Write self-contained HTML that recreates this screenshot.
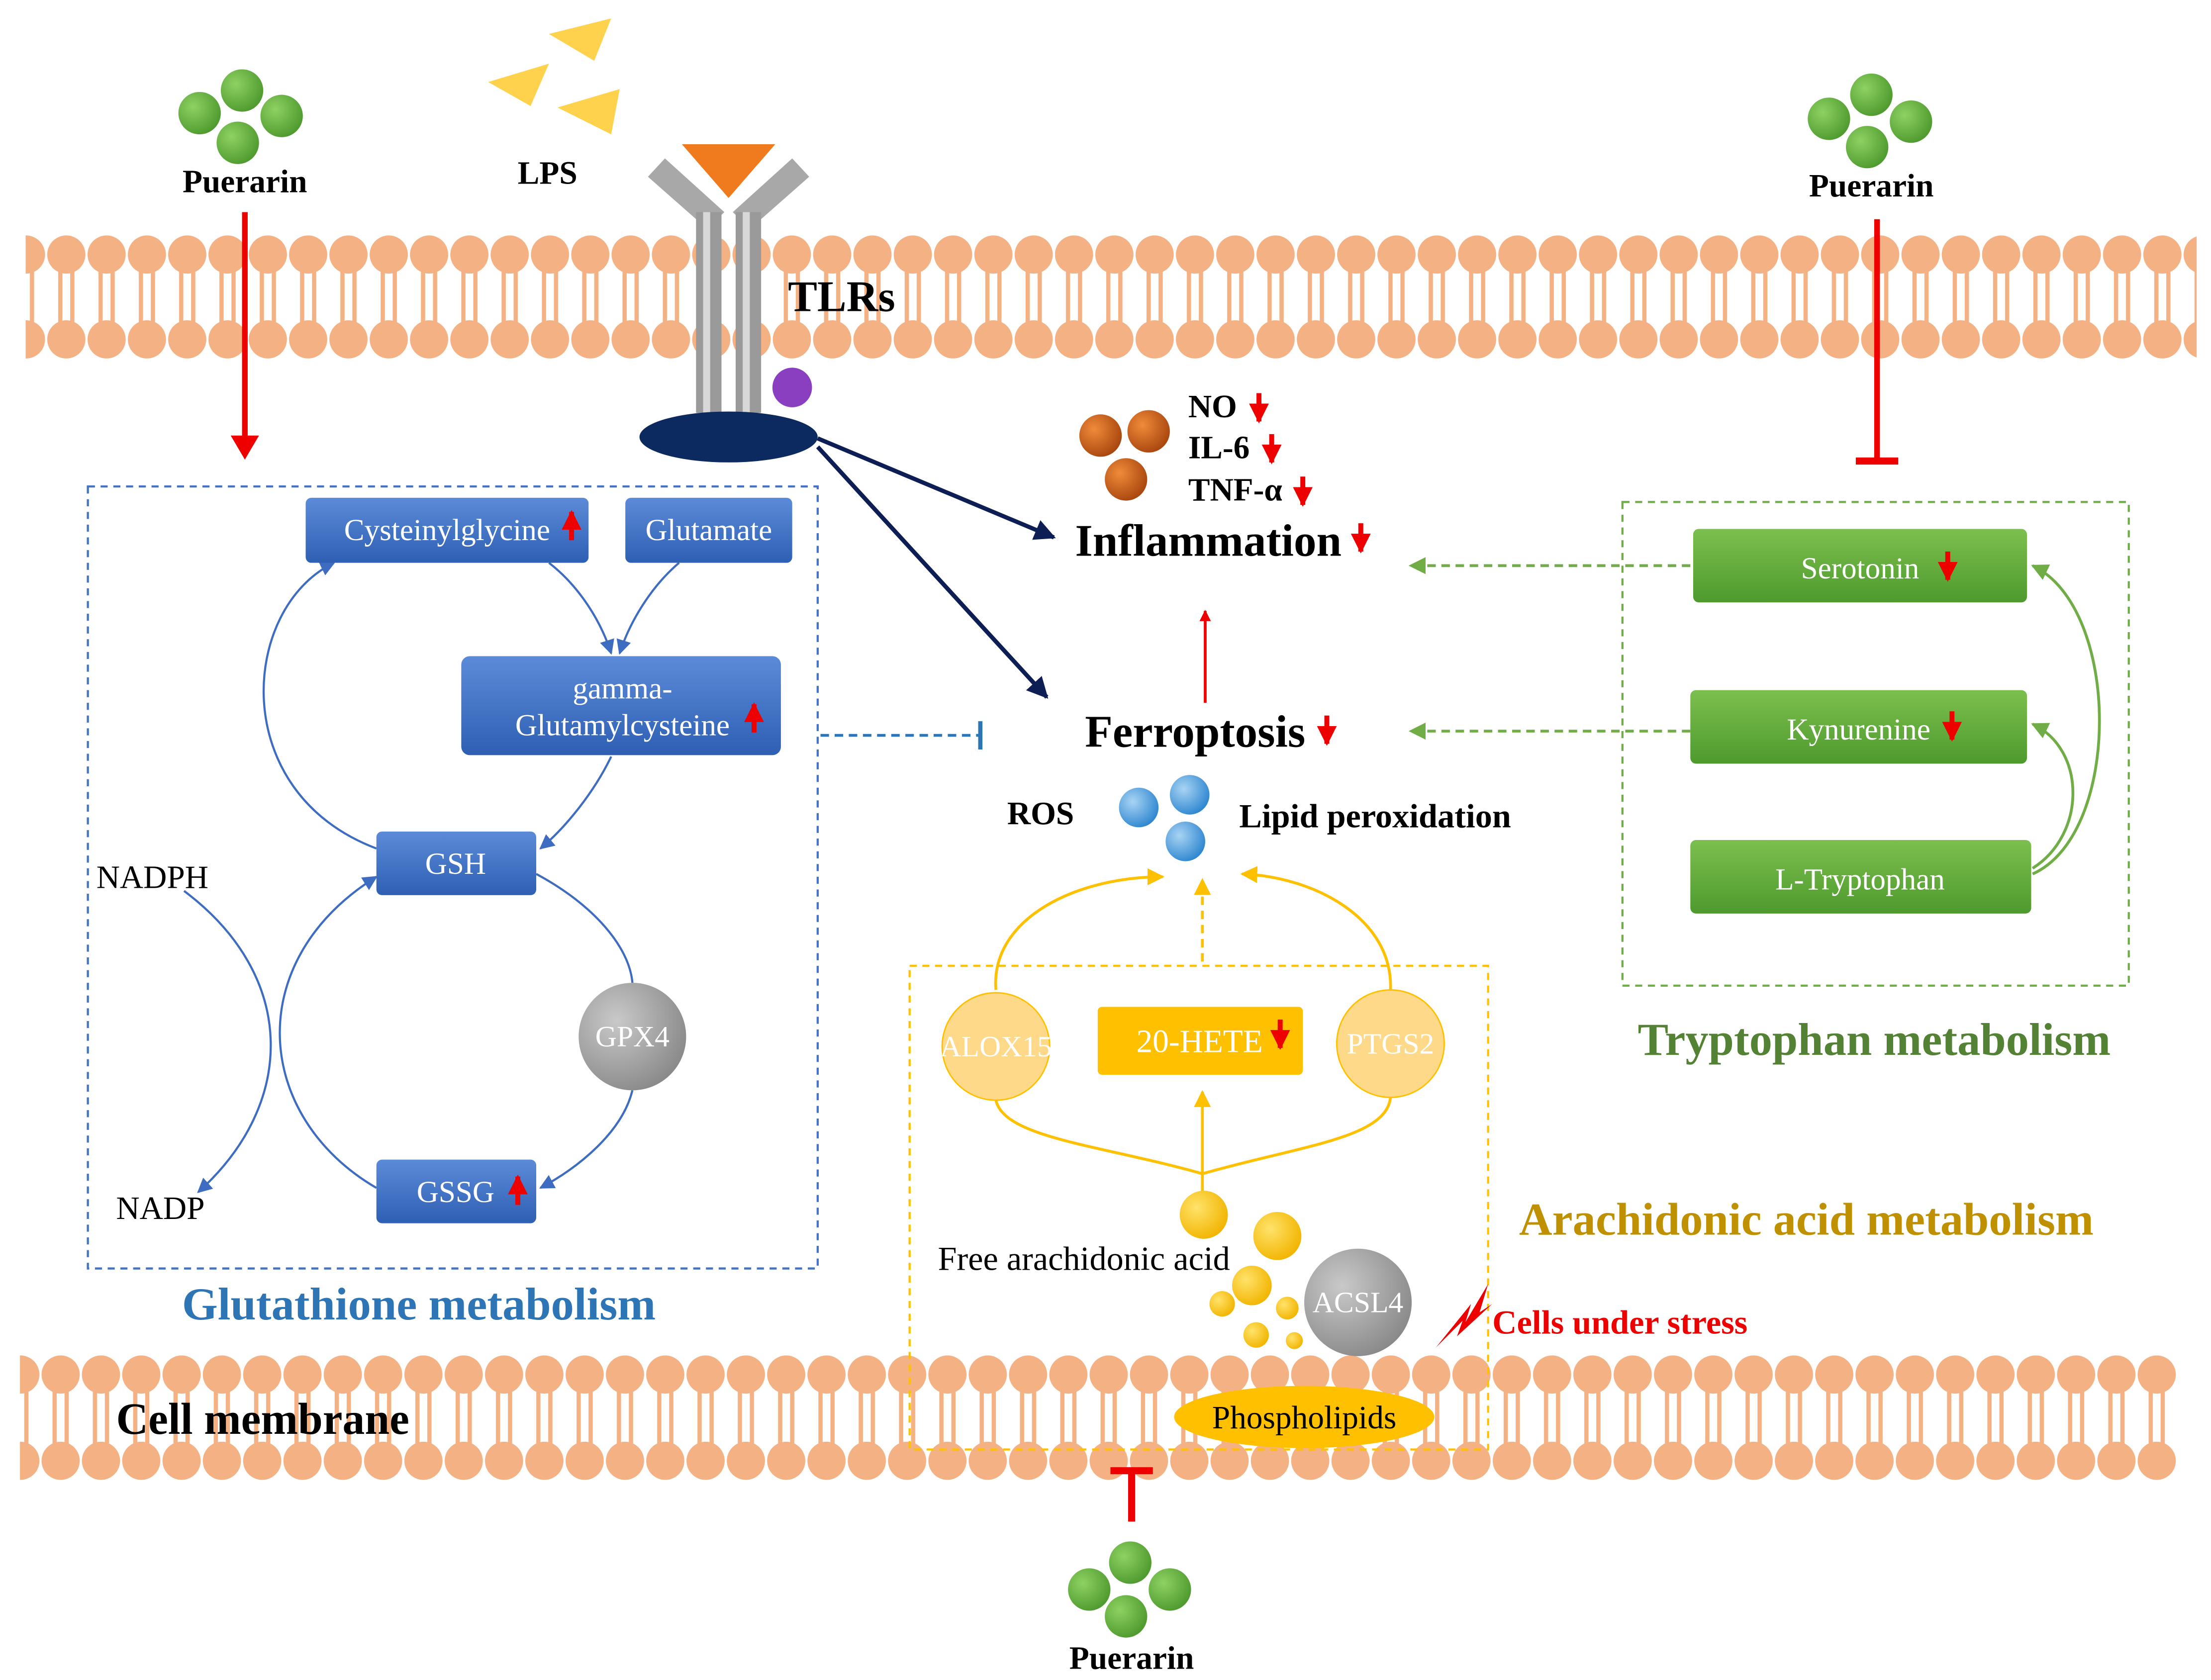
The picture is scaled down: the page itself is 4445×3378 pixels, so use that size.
<!DOCTYPE html>
<html><head><meta charset="utf-8"><style>html,body{margin:0;padding:0;background:#fff}svg{display:block}text{font-family:"Liberation Serif",serif}</style></head>
<body>
<svg width="4445" height="3378" viewBox="0 0 1563 1188" xmlns="http://www.w3.org/2000/svg">
<defs>
<pattern id="mem" x="4" y="0" width="28.5" height="1188" patternUnits="userSpaceOnUse">
<line x1="10" y1="180" x2="10" y2="240" stroke="#F4B183" stroke-width="3"/>
<line x1="18.5" y1="180" x2="18.5" y2="240" stroke="#F4B183" stroke-width="3"/>
<circle cx="14.25" cy="180" r="13.5" fill="#F4B183"/>
<circle cx="14.25" cy="240" r="13.5" fill="#F4B183"/>
</pattern>
<pattern id="mem2" x="0" y="0" width="28.5" height="1188" patternUnits="userSpaceOnUse">
<line x1="10" y1="972" x2="10" y2="1033" stroke="#F4B183" stroke-width="3"/>
<line x1="18.5" y1="972" x2="18.5" y2="1033" stroke="#F4B183" stroke-width="3"/>
<circle cx="14.25" cy="972" r="13.5" fill="#F4B183"/>
<circle cx="14.25" cy="1033" r="13.5" fill="#F4B183"/>
</pattern>
<linearGradient id="bl" x1="0" y1="0" x2="0" y2="1"><stop offset="0" stop-color="#5B8BD8"/><stop offset="1" stop-color="#2F5FB3"/></linearGradient>
<linearGradient id="gr" x1="0" y1="0" x2="0" y2="1"><stop offset="0" stop-color="#7CBF4E"/><stop offset="1" stop-color="#4E9A2E"/></linearGradient>
<radialGradient id="gb" cx="0.35" cy="0.35" r="0.7"><stop offset="0" stop-color="#8FD163"/><stop offset="1" stop-color="#4E9A2E"/></radialGradient>
<radialGradient id="ob" cx="0.35" cy="0.35" r="0.7"><stop offset="0" stop-color="#F08A3A"/><stop offset="1" stop-color="#A8460E"/></radialGradient>
<radialGradient id="bb" cx="0.35" cy="0.35" r="0.7"><stop offset="0" stop-color="#A8D4F4"/><stop offset="1" stop-color="#2E86D0"/></radialGradient>
<radialGradient id="yb" cx="0.35" cy="0.35" r="0.7"><stop offset="0" stop-color="#FFE36A"/><stop offset="1" stop-color="#F2B400"/></radialGradient>
<radialGradient id="gy" cx="0.35" cy="0.35" r="0.7"><stop offset="0" stop-color="#C9C9C9"/><stop offset="1" stop-color="#8A8A8A"/></radialGradient>
<marker id="ar" viewBox="0 0 10 10" refX="9" refY="5" markerWidth="4" markerHeight="4" orient="auto"><path d="M0,0L10,5L0,10z" fill="#E00"/></marker>
<marker id="an" viewBox="0 0 10 10" refX="9" refY="5" markerWidth="5" markerHeight="5" orient="auto"><path d="M0,0L10,5L0,10z" fill="#0D1E55"/></marker>
<marker id="ab" viewBox="0 0 10 10" refX="9" refY="5" markerWidth="7" markerHeight="7" orient="auto"><path d="M0,0L10,5L0,10z" fill="#3E6CC0"/></marker>
<marker id="ag" viewBox="0 0 10 10" refX="9" refY="5" markerWidth="6" markerHeight="6" orient="auto"><path d="M0,0L10,5L0,10z" fill="#70AD47"/></marker>
<marker id="ay" viewBox="0 0 10 10" refX="9" refY="5" markerWidth="6" markerHeight="6" orient="auto"><path d="M0,0L10,5L0,10z" fill="#FFC000"/></marker>
<g id="dn"><line x1="0" y1="0" x2="0" y2="20" stroke="#E00" stroke-width="3.5" marker-end="url(#ar)"/></g>
<g id="up"><line x1="0" y1="20" x2="0" y2="0" stroke="#E00" stroke-width="3.5" marker-end="url(#ar)"/></g>
</defs>
<rect width="1563" height="1188" fill="#fff"/>
<rect x="18" y="160" width="1535" height="100" fill="url(#mem)"/>
<rect x="14" y="952" width="1525" height="100" fill="url(#mem2)"/>

<g fill="url(#gb)"><circle cx="141" cy="80" r="15"/><circle cx="171" cy="64" r="15"/><circle cx="199" cy="82" r="15"/><circle cx="168" cy="101" r="15"/></g>
<text x="173" y="136" font-size="23" font-weight="bold" text-anchor="middle">Puerarin</text>
<g fill="url(#gb)"><circle cx="1293" cy="84" r="15"/><circle cx="1323" cy="67" r="15"/><circle cx="1351" cy="86" r="15"/><circle cx="1320" cy="104" r="15"/></g>
<text x="1323" y="139" font-size="23" font-weight="bold" text-anchor="middle">Puerarin</text>
<g fill="url(#gb)"><circle cx="770" cy="1124" r="15"/><circle cx="799" cy="1105" r="15"/><circle cx="827" cy="1124" r="15"/><circle cx="796" cy="1143" r="15"/></g>
<text x="800" y="1180" font-size="23" font-weight="bold" text-anchor="middle">Puerarin</text>

<line x1="173" y1="150" x2="173" y2="312" stroke="#E00" stroke-width="4"/>
<path d="M163,308L173,325L183,308z" fill="#E00"/>
<line x1="1327" y1="155" x2="1327" y2="325" stroke="#E00" stroke-width="4"/>
<line x1="1312" y1="326" x2="1342" y2="326" stroke="#E00" stroke-width="5"/>
<line x1="800" y1="1040" x2="800" y2="1076" stroke="#E00" stroke-width="5"/>
<line x1="785" y1="1040" x2="815" y2="1040" stroke="#E00" stroke-width="5"/>

<g fill="#FFD24D"><path d="M345,58L388,45L375,75z"/><path d="M388,24L432,13L420,43z"/><path d="M394,76L438,63L432,95z"/></g>
<text x="387" y="130" font-size="23" font-weight="bold" text-anchor="middle">LPS</text>

<path d="M482,102L548,102L515,140z" fill="#F07A1E"/>
<path d="M458,125L470,112L512,150L500,162z" fill="#A8A8A8"/>
<path d="M572,125L560,112L518,150L530,162z" fill="#A8A8A8"/>
<rect x="492" y="150" width="18" height="142" fill="#9A9A9A"/>
<rect x="520" y="150" width="18" height="142" fill="#9A9A9A"/>
<rect x="497" y="150" width="5" height="142" fill="#D8D8D8"/>
<rect x="525" y="150" width="5" height="142" fill="#D8D8D8"/>
<ellipse cx="515" cy="309" rx="63" ry="18" fill="#0D2A60"/>
<circle cx="560" cy="274" r="14" fill="#8A3FC0"/>
<text x="557" y="220" font-size="31" font-weight="bold">TLRs</text>
<line x1="578" y1="310" x2="745" y2="380" stroke="#0D1E55" stroke-width="3" marker-end="url(#an)"/>
<line x1="578" y1="316" x2="740" y2="493" stroke="#0D1E55" stroke-width="3" marker-end="url(#an)"/>

<g fill="url(#ob)"><circle cx="778" cy="308" r="15"/><circle cx="812" cy="305" r="15"/><circle cx="796" cy="339" r="15"/></g>
<text x="840" y="295" font-size="23" font-weight="bold">NO</text><use href="#dn" x="890" y="278"/>
<text x="840" y="324" font-size="23" font-weight="bold">IL-6</text><use href="#dn" x="899" y="307"/>
<text x="840" y="354" font-size="23" font-weight="bold">TNF-α</text><use href="#dn" x="921" y="337"/>
<text x="760" y="393" font-size="32" font-weight="bold">Inflammation</text><use href="#dn" x="962" y="370"/>
<text x="767" y="528" font-size="32" font-weight="bold">Ferroptosis</text><use href="#dn" x="938" y="506"/>
<line x1="852" y1="497" x2="852" y2="432" stroke="#E00" stroke-width="2" marker-end="url(#ar)"/>
<text x="712" y="583" font-size="23" font-weight="bold">ROS</text>
<g fill="url(#bb)"><circle cx="805" cy="571" r="14"/><circle cx="841" cy="562" r="14"/><circle cx="838" cy="595" r="14"/></g>
<text x="876" y="585" font-size="24" font-weight="bold">Lipid peroxidation</text>

<rect x="62" y="344" width="516" height="553" fill="none" stroke="#4472C4" stroke-width="1.5" stroke-dasharray="5,4"/>
<g fill="none" stroke="#3E6CC0" stroke-width="1.5">
<path d="M266,600C160,560 170,430 236,398" marker-end="url(#ab)"/>
<path d="M388,398C410,415 425,440 432,462" marker-end="url(#ab)"/>
<path d="M480,398C460,415 445,440 438,462" marker-end="url(#ab)"/>
<path d="M432,535C420,560 400,585 382,600" marker-end="url(#ab)"/>
<path d="M379,618C420,640 445,670 447,695"/>
<path d="M447,771C440,800 410,825 382,840" marker-end="url(#ab)"/>
<path d="M266,840C180,790 170,680 266,620" marker-end="url(#ab)"/>
<path d="M130,630C210,690 210,780 140,843" marker-end="url(#ab)"/>
</g>
<rect x="216" y="352" width="200" height="46" rx="4" fill="url(#bl)"/>
<text x="316" y="382" font-size="21.5" fill="#fff" text-anchor="middle">Cysteinylglycine</text><use href="#up" x="404" y="362"/>
<rect x="442" y="352" width="118" height="46" rx="4" fill="url(#bl)"/>
<text x="501" y="382" font-size="21.5" fill="#fff" text-anchor="middle">Glutamate</text>
<rect x="326" y="464" width="226" height="70" rx="6" fill="url(#bl)"/>
<text x="440" y="494" font-size="21.5" fill="#fff" text-anchor="middle">gamma-</text>
<text x="440" y="520" font-size="21.5" fill="#fff" text-anchor="middle">Glutamylcysteine</text><use href="#up" x="533" y="498"/>
<rect x="266" y="588" width="113" height="45" rx="4" fill="url(#bl)"/>
<text x="322" y="618" font-size="21.5" fill="#fff" text-anchor="middle">GSH</text>
<rect x="266" y="820" width="113" height="45" rx="4" fill="url(#bl)"/>
<text x="322" y="850" font-size="21.5" fill="#fff" text-anchor="middle">GSSG</text><use href="#up" x="366" y="832"/>
<circle cx="447" cy="733" r="38" fill="url(#gy)"/>
<text x="447" y="740" font-size="21" fill="#fff" text-anchor="middle">GPX4</text>
<text x="68" y="628" font-size="23">NADPH</text>
<text x="82" y="862" font-size="23">NADP</text>
<text x="296" y="933" font-size="32.5" font-weight="bold" fill="#2E75B6" text-anchor="middle">Glutathione metabolism</text>
<line x1="580" y1="520" x2="693" y2="520" stroke="#2E75B6" stroke-width="2" stroke-dasharray="6,4"/>
<line x1="693" y1="510" x2="693" y2="530" stroke="#2E75B6" stroke-width="3"/>

<rect x="1147" y="355" width="358" height="342" fill="none" stroke="#70AD47" stroke-width="1.5" stroke-dasharray="5,4"/>
<rect x="1197" y="374" width="236" height="52" rx="4" fill="url(#gr)"/>
<text x="1315" y="409" font-size="21.5" fill="#fff" text-anchor="middle">Serotonin</text><use href="#dn" x="1377" y="390"/>
<rect x="1195" y="488" width="238" height="52" rx="4" fill="url(#gr)"/>
<text x="1314" y="523" font-size="21.5" fill="#fff" text-anchor="middle">Kynurenine</text><use href="#dn" x="1380" y="503"/>
<rect x="1195" y="594" width="241" height="52" rx="4" fill="url(#gr)"/>
<text x="1315" y="629" font-size="21.5" fill="#fff" text-anchor="middle">L-Tryptophan</text>
<g fill="none" stroke="#70AD47" stroke-width="2">
<path d="M1437,618C1500,590 1500,430 1437,400" marker-end="url(#ag)"/>
<path d="M1437,614C1475,590 1475,530 1437,512" marker-end="url(#ag)"/>
<line x1="1195" y1="400" x2="997" y2="400" stroke-dasharray="6,4" marker-end="url(#ag)"/>
<line x1="1195" y1="517" x2="997" y2="517" stroke-dasharray="6,4" marker-end="url(#ag)"/>
</g>
<text x="1325" y="746" font-size="32.5" font-weight="bold" fill="#548235" text-anchor="middle">Tryptophan metabolism</text>

<rect x="643" y="683" width="409" height="342" fill="none" stroke="#FFC000" stroke-width="1.5" stroke-dasharray="5,4"/>
<g fill="none" stroke="#FFC000" stroke-width="2">
<path d="M704,700C700,650 760,620 822,620" marker-end="url(#ay)"/>
<path d="M983,700C985,650 930,620 878,618" marker-end="url(#ay)"/>
<line x1="850" y1="680" x2="850" y2="622" stroke-dasharray="6,4" marker-end="url(#ay)"/>
<path d="M704,778C710,805 780,810 850,830C920,810 980,805 983,776"/>
<line x1="850" y1="830" x2="850" y2="772" marker-end="url(#ay)"/>
<line x1="850" y1="830" x2="850" y2="845"/>
</g>
<circle cx="704" cy="740" r="38" fill="#FFD98A" stroke="#FFC000" stroke-width="1"/>
<text x="704" y="747" font-size="21" fill="#fff" text-anchor="middle">ALOX15</text>
<circle cx="983" cy="738" r="38" fill="#FFD98A" stroke="#FFC000" stroke-width="1"/>
<text x="983" y="745" font-size="21" fill="#fff" text-anchor="middle">PTGS2</text>
<rect x="776" y="712" width="145" height="48" rx="3" fill="#FFC000"/>
<text x="848" y="744" font-size="23" fill="#fff" text-anchor="middle">20-HETE</text><use href="#dn" x="905" y="721"/>
<g fill="url(#yb)"><circle cx="851" cy="859" r="17"/><circle cx="903" cy="874" r="17"/><circle cx="885" cy="909" r="14"/><circle cx="864" cy="922" r="9"/><circle cx="888" cy="944" r="9"/><circle cx="910" cy="925" r="8"/><circle cx="915" cy="948" r="6"/></g>
<text x="663" y="898" font-size="24">Free arachidonic acid</text>
<circle cx="960" cy="921" r="38" fill="url(#gy)"/>
<text x="960" y="928" font-size="21" fill="#fff" text-anchor="middle">ACSL4</text>
<ellipse cx="922" cy="1002" rx="92" ry="22" fill="#FFC000"/>
<text x="922" y="1010" font-size="23" text-anchor="middle">Phospholipids</text>
<text x="1277" y="873" font-size="32.5" font-weight="bold" fill="#BF9000" text-anchor="middle">Arachidonic acid metabolism</text>
<path d="M1015,953L1040,922L1036,935L1052,908L1046,928L1055,922L1030,945L1034,934z" fill="#E00"/>
<text x="1055" y="943" font-size="24" font-weight="bold" fill="#E00">Cells under stress</text>
<text x="82" y="1014" font-size="31.5" font-weight="bold">Cell membrane</text>
</svg>
</body></html>
